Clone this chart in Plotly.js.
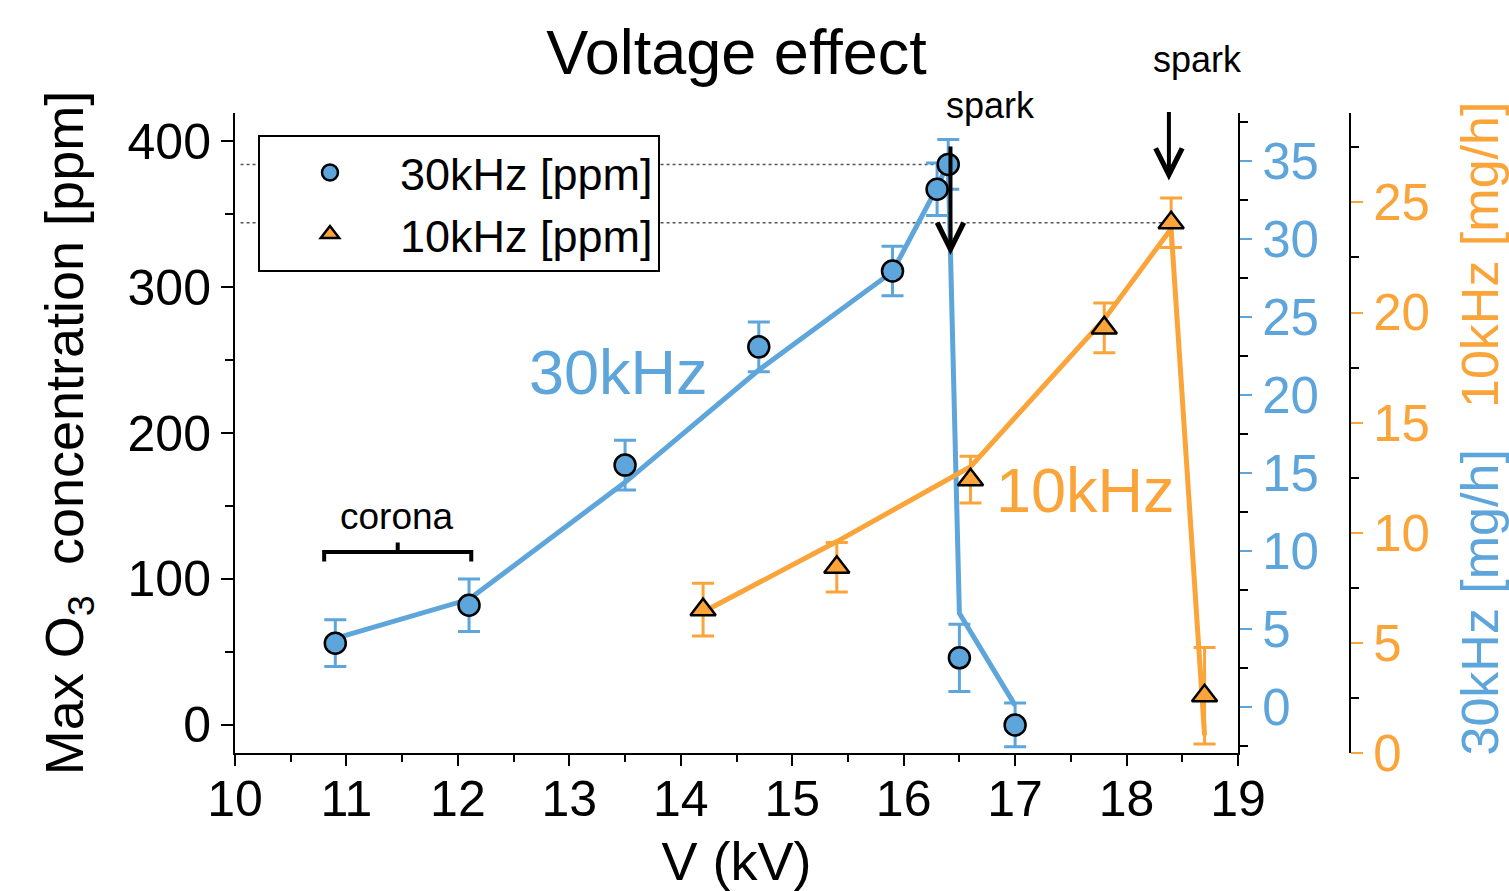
<!DOCTYPE html>
<html>
<head>
<meta charset="utf-8">
<script src="https://cdn.plot.ly/plotly-3.0.1.min.js"></script>
<style>html,body{margin:0;padding:0;background:#fff;}#chart{width:1509px;height:891px;}</style>
</head>
<body>
<div id="chart"></div>
<script>
// ---- data ----
const blueColor = '#5DA5DA';
const orangeColor = '#FAA43A';

// 30 kHz ozone concentration (ppm) with error
const v30 = [10.9, 12.1, 13.5, 14.7, 15.9, 16.3, 16.4, 16.5, 17.0];
const ppm30 = [56, 82, 178, 259, 311, 367, 384, 46, 0];
const err30 = [16, 18, 17, 17, 17, 18, 17, 23, 15];

// 10 kHz ozone concentration (ppm) with error
const v10 = [14.2, 15.4, 16.6, 17.8, 18.4, 18.7];
const ppm10 = [79, 108, 168, 272, 344, 20];
const err10 = [18, 17, 16, 17, 17, 33];

// ozone production rate (mg/h), drawn as lines
const vRate30 = [10.9, 12.1, 13.5, 14.7, 15.9, 16.3, 16.4, 16.5, 17.0];
const rate30 = [4.4, 6.9, 14.4, 21.6, 27.9, 33.3, 34.9, 6.0, 0.1];
const vRate10 = [14.2, 15.4, 16.6, 17.8, 18.4, 18.7];
const rate10 = [6.4, 9.6, 13.0, 19.7, 23.8, 0.8];

// spark markers (kV, ppm)
const sparkV = [16.42, 18.38];
const sparkPpm = [384, 344];

const FONT = 'Liberation Sans, Arial, Helvetica, sans-serif';

const traces = [
  {x: vRate30, y: rate30, yaxis: 'y', mode: 'lines', line: {color: blueColor, width: 5}, showlegend: false, hoverinfo: 'skip'},
  {x: vRate10, y: rate10, yaxis: 'y2', mode: 'lines', line: {color: orangeColor, width: 5}, showlegend: false, hoverinfo: 'skip'},
  {x: v30, y: ppm30, yaxis: 'y3', mode: 'markers', name: '30kHz [ppm]',
   marker: {symbol: 'circle', size: 21, color: blueColor, line: {color: '#000', width: 2.5}},
   error_y: {type: 'data', array: err30, visible: true, color: blueColor, thickness: 3, width: 11}},
  {x: v10, y: ppm10, yaxis: 'y3', mode: 'markers', name: '10kHz [ppm]',
   marker: {symbol: 'triangle-up', size: 22, color: orangeColor, line: {color: '#000', width: 2.5}},
   error_y: {type: 'data', array: err10, visible: true, color: orangeColor, thickness: 3, width: 11}}
];

const xDomEnd = (1238 - 235) / (1509 - 235 - 159);

const layout = {
  width: 1509, height: 891,
  paper_bgcolor: '#fff', plot_bgcolor: '#fff',
  font: {family: FONT, color: '#000'},
  margin: {l: 235, r: 159, t: 113, b: 138},
  title: {text: 'Voltage effect', font: {size: 63, family: FONT}, x: xDomEnd / 2, xref: 'paper', xanchor: 'center', y: 1 - 52 / 891, yref: 'container', yanchor: 'middle'},
  showlegend: true,
  legend: {x: 0.0206, y: 0.966, xanchor: 'left', yanchor: 'top', bgcolor: '#fff', bordercolor: '#000', borderwidth: 2, font: {size: 45, family: FONT}, tracegroupgap: 0, itemwidth: 130},
  xaxis: {
    domain: [0, xDomEnd], range: [10, 19], dtick: 1, tick0: 10,
    showline: true, linecolor: '#000', linewidth: 2, mirror: false,
    ticks: 'outside', ticklen: 11, tickwidth: 2, tickcolor: '#000',
    minor: {dtick: 0.5, ticklen: 7, tickwidth: 2, tickcolor: '#000', ticks: 'outside'},
    tickfont: {size: 50, family: FONT}, ticklabelstandoff: -10,
    showgrid: false, zeroline: false,
    title: {text: 'V (kV)', font: {size: 54, family: FONT}, standoff: 46}
  },
  yaxis: {
    side: 'right', anchor: 'x', range: [-2.95, 38.07], dtick: 5, tick0: 0,
    showline: true, linecolor: '#000', linewidth: 2,
    ticks: 'outside', ticklen: 12, tickwidth: 2, tickcolor: blueColor,
    minor: {dtick: 2.5, tick0: 0, ticklen: 8, tickwidth: 2, tickcolor: '#000', ticks: 'outside'},
    tickfont: {size: 51, color: blueColor, family: FONT},
    showgrid: false, zeroline: false
  },
  yaxis2: {
    overlaying: 'y', side: 'right', anchor: 'free', position: 1, range: [0, 29.06], dtick: 5, tick0: 0,
    showline: true, linecolor: '#000', linewidth: 2,
    ticks: 'outside', ticklen: 12, tickwidth: 2, tickcolor: orangeColor,
    minor: {dtick: 2.5, tick0: 0, ticklen: 8, tickwidth: 2, tickcolor: '#000', ticks: 'outside'},
    tickfont: {size: 51, color: orangeColor, family: FONT},
    showgrid: false, zeroline: false
  },
  yaxis3: {
    overlaying: 'y', side: 'left', anchor: 'x', range: [-19.2, 419.2], dtick: 100, tick0: 0,
    showline: true, linecolor: '#000', linewidth: 2,
    ticks: 'outside', ticklen: 12, tickwidth: 2, tickcolor: '#000',
    minor: {dtick: 50, tick0: 0, ticklen: 8, tickwidth: 2, tickcolor: '#000', ticks: 'outside'},
    tickfont: {size: 50, family: FONT},
    showgrid: false, zeroline: false,
    title: {text: 'Max O<sub>3</sub>  concentration [ppm]', font: {size: 54, family: FONT}, standoff: 27}
  },
  shapes: [
    {type: 'line', xref: 'x', yref: 'y3', x0: 10.05, x1: sparkV[0], y0: sparkPpm[0], y1: sparkPpm[0], line: {color: '#555', width: 1.5, dash: 'dot'}, layer: 'below'},
    {type: 'line', xref: 'x', yref: 'y3', x0: 10.05, x1: sparkV[1], y0: sparkPpm[1], y1: sparkPpm[1], line: {color: '#555', width: 1.5, dash: 'dot'}, layer: 'below'},
    // corona bracket
    {type: 'path', xref: 'x', yref: 'y3', path: 'M 10.8,112 L 10.8,118.5 L 12.12,118.5 L 12.12,112 M 11.46,118.5 L 11.46,125', line: {color: '#000', width: 4}}
  ],
  annotations: [
    {xref: 'x', yref: 'y3', x: sparkV[0], y: 322, ax: 0, ay: -110, showarrow: true, arrowhead: 5, arrowsize: 1.3, arrowwidth: 4, arrowcolor: '#000', text: ''},
    {xref: 'x', yref: 'y3', x: sparkV[1], y: 373, ax: 0, ay: -70, showarrow: true, arrowhead: 5, arrowsize: 1.3, arrowwidth: 4, arrowcolor: '#000', text: ''},
    {xref: 'x', yref: 'paper', x: 16.78, y: 1.0125, xanchor: 'center', yanchor: 'middle', text: 'spark', showarrow: false, font: {size: 36, family: FONT}},
    {xref: 'x', yref: 'paper', x: 18.635, y: 1.083, xanchor: 'center', yanchor: 'middle', text: 'spark', showarrow: false, font: {size: 36, family: FONT}},
    {xref: 'x', yref: 'y3', x: 11.45, y: 142.5, text: 'corona', showarrow: false, font: {size: 37, family: FONT}},
    {xref: 'x', yref: 'y3', x: 13.44, y: 242, text: '30kHz', showarrow: false, font: {size: 63, color: blueColor, family: FONT}},
    {xref: 'x', yref: 'y3', x: 17.63, y: 161, text: '10kHz', showarrow: false, font: {size: 63, color: orangeColor, family: FONT}},
    {xref: 'paper', yref: 'paper', x: 1.1165, y: 0.778, xanchor: 'center', yanchor: 'middle', text: '10kHz [mg/h]', textangle: -90, showarrow: false, font: {size: 52, color: orangeColor, family: FONT}},
    {xref: 'paper', yref: 'paper', x: 1.1165, y: 0.235, xanchor: 'center', yanchor: 'middle', text: '30kHz [mg/h]', textangle: -90, showarrow: false, font: {size: 52, color: blueColor, family: FONT}}
  ]
};

Plotly.newPlot('chart', traces, layout, {displayModeBar: false, staticPlot: true});
</script>
</body>
</html>
